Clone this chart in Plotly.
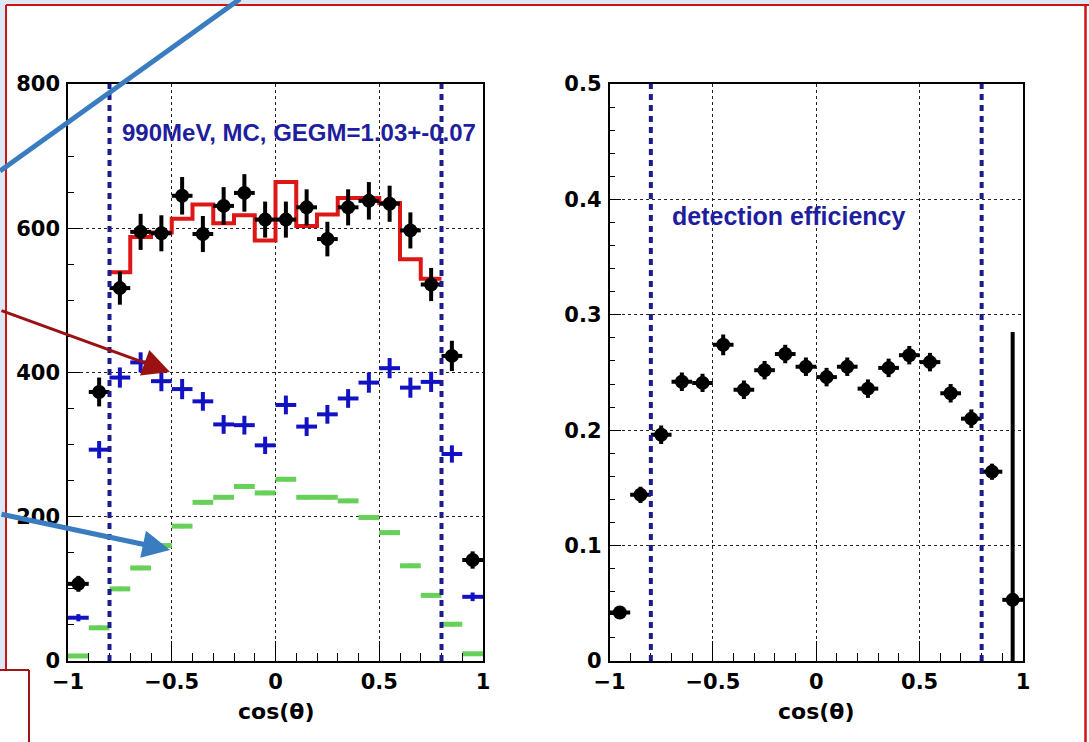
import plotly.graph_objects as go

# ---------------- data ----------------
bin_centers = [-0.95, -0.85, -0.75, -0.65, -0.55, -0.45, -0.35, -0.25, -0.15, -0.05,
               0.05, 0.15, 0.25, 0.35, 0.45, 0.55, 0.65, 0.75, 0.85, 0.95]
counts_data = [107, 373, 517, 595, 593, 645, 592, 631, 649, 612,
               612, 629, 585, 629, 638, 634, 597, 522, 423, 140]
counts_err = [11, 20, 23, 25, 25, 26, 25, 26, 26, 25,
              25, 25, 24, 25, 26, 25, 25, 23, 21, 12]
fit_edges = [-0.8, -0.7, -0.6, -0.5, -0.4, -0.3, -0.2, -0.1, 0.0,
             0.1, 0.2, 0.3, 0.4, 0.5, 0.6, 0.7, 0.8]
fit_values = [539, 588, 594, 613, 633, 607, 618, 583,
              664, 603, 619, 642, 642, 635, 557, 530]
blue_values = [60, 293, 393, 414, 388, 377, 360, 328, 327, 299,
               355, 325, 342, 364, 386, 406, 379, 387, 287, 89]
blue_err = [5, 12, 14, 14, 14, 14, 13, 13, 13, 12,
            13, 13, 13, 13, 14, 14, 14, 14, 12, 6]
green_values = [7, 46, 100, 129, 160, 187, 220, 227, 242, 233,
                252, 227, 227, 222, 199, 178, 132, 91, 51, 10]
green_err = [2, 3, 3, 3, 3, 3, 3, 3, 3, 3, 3, 3, 3, 3, 3, 3, 3, 3, 3, 2]
efficiency = [0.042, 0.144, 0.196, 0.242, 0.241, 0.274, 0.235, 0.252, 0.266, 0.255,
              0.246, 0.255, 0.236, 0.254, 0.265, 0.259, 0.232, 0.210, 0.164, 0.053]
eff_err_plus = [0.005, 0.007, 0.008, 0.008, 0.008, 0.009, 0.008, 0.008, 0.008, 0.008,
                0.008, 0.008, 0.008, 0.008, 0.008, 0.008, 0.008, 0.008, 0.007, 0.232]
eff_err_minus = [0.005, 0.007, 0.008, 0.008, 0.008, 0.009, 0.008, 0.008, 0.008, 0.008,
                 0.008, 0.008, 0.008, 0.008, 0.008, 0.008, 0.008, 0.008, 0.007, 0.053]
cut_lines = [-0.8, 0.8]
half_bin = 0.05
label_left = "990MeV, MC, GEGM=1.03+-0.07"
label_right = "detection efficiency"
x_title = "cos(θ)"

# ---------------- layout geometry (pixels) ----------------
W, H = 1089, 742
PL, PR, PT, PB = 68, 1023, 84, 661
PW, PH = PR - PL, PB - PT


def px(X):
    return (X - PL) / PW


def py(Y):
    return (PB - Y) / PH


left_dom = [0.0, px(483)]
right_dom = [px(609.5), 1.0]

BLACK = "black"
BLUE = "#1212c4"
GREEN = "#66d058"
RED = "#dd1616"
NAVY = "#1c1c8c"

fig = go.Figure()

# green
fig.add_trace(go.Scatter(
    x=bin_centers, y=green_values, mode="markers",
    marker=dict(size=1, color=GREEN),
    error_x=dict(type="constant", value=half_bin, thickness=5, width=0, color=GREEN),
    error_y=dict(type="data", array=green_err, thickness=5, width=0, color=GREEN),
    xaxis="x", yaxis="y", showlegend=False))
# blue crosses
fig.add_trace(go.Scatter(
    x=bin_centers, y=blue_values, mode="markers",
    marker=dict(size=1, color=BLUE),
    error_x=dict(type="constant", value=half_bin, thickness=4, width=0, color=BLUE),
    error_y=dict(type="data", array=blue_err, thickness=4, width=0, color=BLUE),
    xaxis="x", yaxis="y", showlegend=False))
# red step histogram
fig.add_trace(go.Scatter(
    x=fit_edges, y=fit_values + [fit_values[-1]], mode="lines",
    line=dict(color=RED, width=4, shape="hv"),
    xaxis="x", yaxis="y", showlegend=False))
# black data
fig.add_trace(go.Scatter(
    x=bin_centers, y=counts_data, mode="markers",
    marker=dict(size=14, color=BLACK, symbol="circle"),
    error_x=dict(type="constant", value=half_bin, thickness=4, width=0, color=BLACK),
    error_y=dict(type="data", array=counts_err, thickness=4, width=0, color=BLACK),
    xaxis="x", yaxis="y", showlegend=False))
# efficiency
fig.add_trace(go.Scatter(
    x=bin_centers, y=efficiency, mode="markers",
    marker=dict(size=14, color=BLACK, symbol="circle"),
    error_x=dict(type="constant", value=half_bin, thickness=4, width=0, color=BLACK),
    error_y=dict(type="data", array=eff_err_plus, arrayminus=eff_err_minus,
                 symmetric=False, thickness=4, width=0, color=BLACK),
    xaxis="x2", yaxis="y2", showlegend=False))

tickfont = dict(family="DejaVu Sans", size=21, color="black", weight="bold")

common_x = dict(
    range=[-1, 1], dtick=0.5, tick0=-1, ticks="inside", ticklen=20, tickwidth=1,
    tickcolor="black", showline=True, linecolor="black", linewidth=1.5, mirror=True,
    showgrid=True, gridcolor="#222", griddash="dot", gridwidth=1.2, zeroline=False,
    tickfont=tickfont, ticklabelstandoff=1, automargin=False,
    minor=dict(dtick=0.1, tick0=-1, ticks="inside", ticklen=8, tickcolor="black",
               tickwidth=1, showgrid=False),
)

fig.update_layout(
    width=W, height=H, template="none",
    paper_bgcolor="white", plot_bgcolor="white",
    margin=dict(l=PL, r=W - PR, t=PT, b=H - PB, pad=0),
    xaxis=dict(domain=left_dom, anchor="y", **common_x),
    xaxis2=dict(domain=right_dom, anchor="y2", **common_x),
    yaxis=dict(domain=[0, 1], anchor="x", range=[0, 800], dtick=200, ticks="inside",
               ticklen=12, tickcolor="black", showline=True, linecolor="black",
               linewidth=1.5, mirror=True, showgrid=True, gridcolor="#222",
               griddash="dot", gridwidth=1.2, zeroline=False, tickfont=tickfont,
               ticklabelstandoff=2, automargin=False,
               minor=dict(dtick=50, ticks="inside", ticklen=6, tickcolor="black",
                          showgrid=False)),
    yaxis2=dict(domain=[0, 1], anchor="x2", range=[0, 0.5], dtick=0.1, ticks="inside",
                ticklen=12, tickcolor="black", showline=True, linecolor="black",
                linewidth=1.5, mirror=True, showgrid=True, gridcolor="#222",
                griddash="dot", gridwidth=1.2, zeroline=False, tickfont=tickfont,
                ticklabelstandoff=2, automargin=False,
                minor=dict(dtick=0.02, ticks="inside", ticklen=6, tickcolor="black",
                           showgrid=False)),
)

shapes = []
# dashed cut lines in both panels
for xr, yr in (("x", "y domain"), ("x2", "y2 domain")):
    for c in cut_lines:
        shapes.append(dict(type="line", xref=xr, yref=yr, x0=c, x1=c, y0=0, y1=1,
                           line=dict(color=NAVY, width=4, dash="6px,5px"), layer="above"))

# page decoration (light blue background strips, red frames)
LB = "#dce8f5"
shapes += [
    dict(type="rect", xref="paper", yref="paper", x0=px(0), x1=px(W), y0=py(0), y1=py(5),
         fillcolor=LB, line=dict(width=0), layer="above"),
    dict(type="rect", xref="paper", yref="paper", x0=px(0), x1=px(6), y0=py(0), y1=py(670),
         fillcolor=LB, line=dict(width=0), layer="above"),
    dict(type="line", xref="paper", yref="paper", x0=px(6), x1=px(W), y0=py(5), y1=py(5),
         line=dict(color="#cc1414", width=2)),
    dict(type="line", xref="paper", yref="paper", x0=px(6), x1=px(6), y0=py(5), y1=py(670),
         line=dict(color="#cc1414", width=2)),
    dict(type="line", xref="paper", yref="paper", x0=px(1085.5), x1=px(1085.5), y0=py(5), y1=py(H),
         line=dict(color="#cc1414", width=2.5)),
    dict(type="line", xref="paper", yref="paper", x0=px(0), x1=px(29), y0=py(670), y1=py(670),
         line=dict(color="#a31515", width=2)),
    dict(type="line", xref="paper", yref="paper", x0=px(29), x1=px(29), y0=py(670), y1=py(H),
         line=dict(color="#a31515", width=2)),
    # blue pointer line from top
    dict(type="line", xref="paper", yref="paper", x0=px(240), x1=px(0), y0=py(-1), y1=py(171),
         line=dict(color="#3a7cc0", width=5)),
]
fig.update_layout(shapes=shapes)

annots = [
    dict(text=label_left, xref="paper", yref="paper", x=px(120), y=py(133),
         xanchor="left", yanchor="middle", showarrow=False,
         font=dict(family="Liberation Sans", size=24, color="#1e1e9e", weight="bold")),
    dict(text=label_right, xref="paper", yref="paper", x=px(670), y=py(216),
         xanchor="left", yanchor="middle", showarrow=False,
         font=dict(family="Liberation Sans", size=25, color="#1e1e9e", weight="bold")),
    dict(text=x_title, xref="paper", yref="paper", x=px(275.5), y=py(711),
         xanchor="center", yanchor="middle", showarrow=False,
         font=dict(family="DejaVu Sans", size=22, color="black", weight="bold")),
    dict(text=x_title, xref="paper", yref="paper", x=px(816), y=py(711),
         xanchor="center", yanchor="middle", showarrow=False,
         font=dict(family="DejaVu Sans", size=22, color="black", weight="bold")),
    # arrows
    dict(text="", xref="paper", yref="paper", x=px(170), y=py(372), ax=-172, ay=-62,
         showarrow=True, arrowhead=2, arrowsize=1.8, arrowwidth=3, arrowcolor="#9b1111",
         standoff=0, startstandoff=0),
    dict(text="", xref="paper", yref="paper", x=px(170), y=py(550), ax=-172, ay=-36,
         showarrow=True, arrowhead=2, arrowsize=1.1, arrowwidth=5, arrowcolor="#3a7cc0",
         standoff=0, startstandoff=0),
]
fig.update_layout(annotations=annots)

fig.write_html("out.html")
